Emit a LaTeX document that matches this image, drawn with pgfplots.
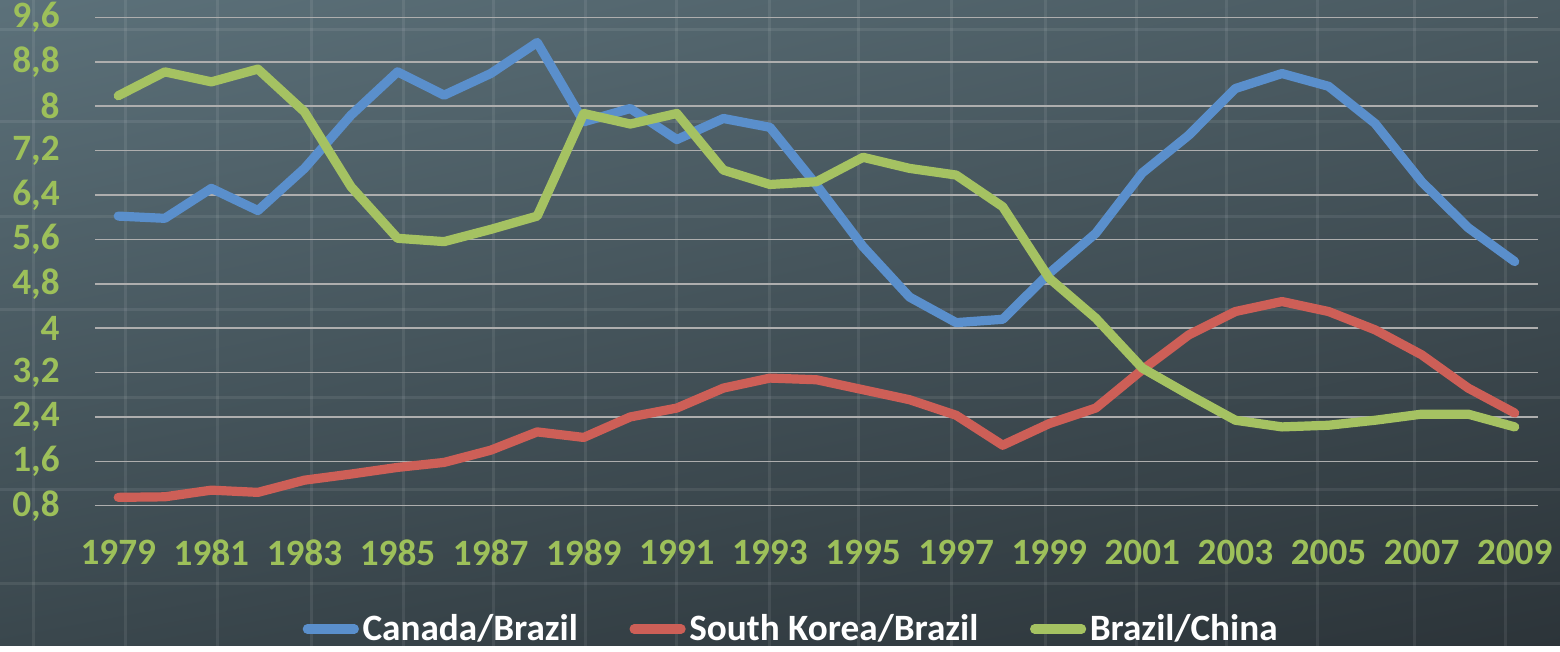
\documentclass[border=0pt]{standalone}
\usepackage{pgfplots}
\pgfplotsset{compat=1.18}
\usetikzlibrary{shadings}
\usepackage{fontspec}
\setmainfont{Carlito}
\definecolor{cblue}{HTML}{5A8FCC}
\definecolor{cred}{HTML}{CD5F57}
\definecolor{cgreen}{HTML}{A5C262}
\definecolor{labgreen}{HTML}{9DC05A}
\definecolor{bgul}{HTML}{5C717A}
\definecolor{bgur}{HTML}{4A5A61}
\definecolor{bgll}{HTML}{3A474D}
\definecolor{bglr}{HTML}{2C3439}
\definecolor{gridc}{HTML}{AEAEAE}
\begin{document}
\begin{tikzpicture}
\begin{scope}[x=0.5pt,y=0.5pt]
\useasboundingbox (0,0) rectangle (1560,646);
\shade[upper left=bgul, upper right=bgur, lower left=bgll, lower right=bglr] (0,0) rectangle (1560,646);
\foreach \xx in {33,125,217,311,403,493,585,676,769,858,951,1045,1136,1226,1317,1414,1505}
  \draw[white, opacity=0.08, line width=1.5pt] (\xx,0) -- (\xx,646);
\foreach \yy in {30,122,217,310,398,490,584}
  \draw[white, opacity=0.08, line width=1.5pt] (0,646-\yy) -- (1560,646-\yy);
\end{scope}
\begin{axis}[
  at={(47.5pt,70.15pt)}, anchor=south west,
  scale only axis, width=721.5pt, height=244.1pt,
  xmin=1978.5, xmax=2009.5, ymin=0.8, ymax=9.6,
  axis line style={draw=none},
  major tick length=0pt,
  xtick={1979,1981,1983,1985,1987,1989,1991,1993,1995,1997,1999,2001,2003,2005,2007,2009},
  xticklabels={1979,1981,1983,1985,1987,1989,1991,1993,1995,1997,1999,2001,2003,2005,2007,2009},
  ytick={0.8,1.6,2.4,3.2,4,4.8,5.6,6.4,7.2,8,8.8,9.6},
  yticklabels={{0,8},{1,6},{2,4},{3,2},{4},{4,8},{5,6},{6,4},{7,2},{8},{8,8},{9,6}},
  ymajorgrids,
  grid style={draw=gridc, line width=0.8pt},
  tick label style={font=\bfseries\fontsize{18.6}{21}\selectfont, text=labgreen, inner sep=0pt},
  xticklabel style={yshift=-17pt},
  yticklabel style={xshift=-17.5pt},
  every axis plot/.append style={line width=4.6pt, line cap=round, line join=round},
  legend image code/.code={\draw[#1, line cap=round] (0pt,0pt) -- (23.5pt,0pt);},
  legend style={at={(0.483,-0.2526)}, anchor=center, draw=none, fill=none,
    legend columns=3, font=\bfseries\fontsize{18.6}{21}\selectfont, text=white,
    /tikz/every even column/.append style={column sep=24pt},
    nodes={inner sep=1.8pt}},
]
\addplot[cblue] coordinates {
(1979,6.02)(1980,5.98)(1981,6.52)(1982,6.12)(1983,6.88)(1984,7.84)(1985,8.62)(1986,8.20)
(1987,8.59)(1988,9.15)(1989,7.72)(1990,7.96)(1991,7.40)(1992,7.78)(1993,7.62)(1994,6.58)
(1995,5.47)(1996,4.56)(1997,4.10)(1998,4.16)(1999,4.99)(2000,5.71)(2001,6.80)(2002,7.48)
(2003,8.32)(2004,8.59)(2005,8.36)(2006,7.69)(2007,6.64)(2008,5.81)(2009,5.20)};
\addlegendentry{Canada/Brazil}
\addplot[cred] coordinates {
(1979,0.95)(1980,0.96)(1981,1.08)(1982,1.04)(1983,1.26)(1984,1.37)(1985,1.49)(1986,1.58)
(1987,1.80)(1988,2.13)(1989,2.03)(1990,2.40)(1991,2.56)(1992,2.92)(1993,3.10)(1994,3.07)
(1995,2.89)(1996,2.71)(1997,2.43)(1998,1.89)(1999,2.28)(2000,2.56)(2001,3.25)(2002,3.88)
(2003,4.30)(2004,4.48)(2005,4.30)(2006,3.97)(2007,3.52)(2008,2.92)(2009,2.47)};
\addlegendentry{South Korea/Brazil}
\addplot[cgreen] coordinates {
(1979,8.19)(1980,8.62)(1981,8.44)(1982,8.67)(1983,7.90)(1984,6.55)(1985,5.62)(1986,5.56)
(1987,5.78)(1988,6.02)(1989,7.87)(1990,7.68)(1991,7.87)(1992,6.85)(1993,6.59)(1994,6.64)
(1995,7.08)(1996,6.88)(1997,6.76)(1998,6.19)(1999,4.90)(2000,4.18)(2001,3.28)(2002,2.80)
(2003,2.34)(2004,2.22)(2005,2.25)(2006,2.34)(2007,2.45)(2008,2.45)(2009,2.22)};
\addlegendentry{Brazil/China}
\end{axis}
\end{tikzpicture}
\end{document}
